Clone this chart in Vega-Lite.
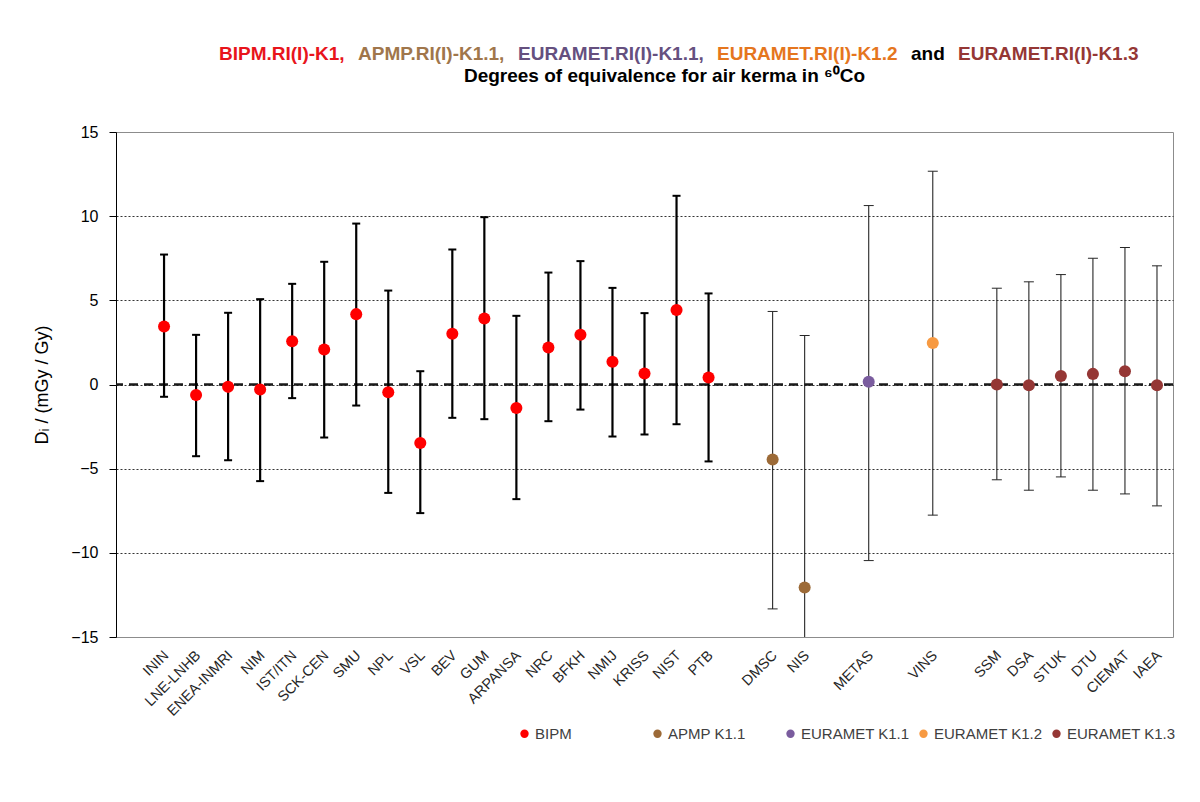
{
  "$schema": "https://vega.github.io/schema/vega-lite/v6.json",
  "background": "white",
  "padding": {"left": 33, "top": 44, "right": 10, "bottom": 5},
  "config": {
    "font": "Liberation Sans",
    "view": {"stroke": "#8c8c8c", "strokeWidth": 1},
    "title": {"fontSize": 19, "fontWeight": "bold", "anchor": "start", "offset": 0, "color": "#000000"}
  },
  "datasets": {
    "doe": [
      {"lab": "ININ", "grp": "BIPM", "d": 3.45, "lo": -0.73, "hi": 7.72},
      {"lab": "LNE-LNHB", "grp": "BIPM", "d": -0.63, "lo": -4.26, "hi": 2.95},
      {"lab": "ENEA-INMRI", "grp": "BIPM", "d": -0.14, "lo": -4.50, "hi": 4.26},
      {"lab": "NIM", "grp": "BIPM", "d": -0.30, "lo": -5.74, "hi": 5.07},
      {"lab": "IST/ITN", "grp": "BIPM", "d": 2.57, "lo": -0.81, "hi": 5.98},
      {"lab": "SCK-CEN", "grp": "BIPM", "d": 2.08, "lo": -3.15, "hi": 7.29},
      {"lab": "SMU", "grp": "BIPM", "d": 4.18, "lo": -1.25, "hi": 9.56},
      {"lab": "NPL", "grp": "BIPM", "d": -0.46, "lo": -6.44, "hi": 5.58},
      {"lab": "VSL", "grp": "BIPM", "d": -3.47, "lo": -7.64, "hi": 0.79},
      {"lab": "BEV", "grp": "BIPM", "d": 3.01, "lo": -1.98, "hi": 8.02},
      {"lab": "GUM", "grp": "BIPM", "d": 3.92, "lo": -2.06, "hi": 9.94},
      {"lab": "ARPANSA", "grp": "BIPM", "d": -1.39, "lo": -6.81, "hi": 4.08},
      {"lab": "NRC", "grp": "BIPM", "d": 2.20, "lo": -2.18, "hi": 6.65},
      {"lab": "BFKH", "grp": "BIPM", "d": 2.95, "lo": -1.49, "hi": 7.33},
      {"lab": "NMIJ", "grp": "BIPM", "d": 1.35, "lo": -3.09, "hi": 5.74},
      {"lab": "KRISS", "grp": "BIPM", "d": 0.65, "lo": -2.97, "hi": 4.24},
      {"lab": "NIST", "grp": "BIPM", "d": 4.42, "lo": -2.36, "hi": 11.21},
      {"lab": "PTB", "grp": "BIPM", "d": 0.42, "lo": -4.57, "hi": 5.41},
      {"lab": "DMSC", "grp": "APMP K1.1", "d": -4.46, "lo": -13.33, "hi": 4.34},
      {"lab": "NIS", "grp": "APMP K1.1", "d": -12.06, "lo": -27.03, "hi": 2.91},
      {"lab": "METAS", "grp": "EURAMET K1.1", "d": 0.16, "lo": -10.46, "hi": 10.63},
      {"lab": "VINS", "grp": "EURAMET K1.2", "d": 2.46, "lo": -7.76, "hi": 12.67},
      {"lab": "SSM", "grp": "EURAMET K1.3", "d": 0.0, "lo": -5.66, "hi": 5.72},
      {"lab": "DSA", "grp": "EURAMET K1.3", "d": -0.04, "lo": -6.28, "hi": 6.10},
      {"lab": "STUK", "grp": "EURAMET K1.3", "d": 0.51, "lo": -5.49, "hi": 6.53},
      {"lab": "DTU", "grp": "EURAMET K1.3", "d": 0.63, "lo": -6.28, "hi": 7.50},
      {"lab": "CIEMAT", "grp": "EURAMET K1.3", "d": 0.79, "lo": -6.50, "hi": 8.14},
      {"lab": "IAEA", "grp": "EURAMET K1.3", "d": -0.04, "lo": -7.21, "hi": 7.05}
    ]
  },
  "spacing": -13,
  "vconcat": [
    {
      "spacing": 13,
      "hconcat": [
        {"width": 90, "height": 1, "data": {"values": [{}]}, "mark": {"type": "text", "text": ""}, "view": {"stroke": null}},
        {"width": 1, "height": 1, "title": {"text": "BIPM.RI(I)-K1,", "color": "#E8141B"}, "data": {"values": [{}]}, "mark": {"type": "text", "text": ""}, "view": {"stroke": null}},
        {"width": 1, "height": 1, "title": {"text": "APMP.RI(I)-K1.1,", "color": "#A0764B"}, "data": {"values": [{}]}, "mark": {"type": "text", "text": ""}, "view": {"stroke": null}},
        {"width": 1, "height": 1, "title": {"text": "EURAMET.RI(I)-K1.1,", "color": "#65507F"}, "data": {"values": [{}]}, "mark": {"type": "text", "text": ""}, "view": {"stroke": null}},
        {"width": 1, "height": 1, "title": {"text": "EURAMET.RI(I)-K1.2", "color": "#E5761E"}, "data": {"values": [{}]}, "mark": {"type": "text", "text": ""}, "view": {"stroke": null}},
        {"width": 1, "height": 1, "title": {"text": "and", "color": "#000000"}, "data": {"values": [{}]}, "mark": {"type": "text", "text": ""}, "view": {"stroke": null}},
        {"width": 1, "height": 1, "title": {"text": "EURAMET.RI(I)-K1.3", "color": "#953735"}, "data": {"values": [{}]}, "mark": {"type": "text", "text": ""}, "view": {"stroke": null}}
      ]
    },
    {
      "width": 1057,
      "height": 505,
      "title": {"text": "Degrees of equivalence for air kerma in ⁶⁰Co", "anchor": "middle", "dx": 20, "offset": 38},
      "data": {"name": "doe"},
      "layer": [
        {
          "data": {"values": [{}]},
          "mark": {"type": "rule", "strokeDash": [9, 6], "strokeWidth": 2.5, "color": "#1a1a1a"},
          "encoding": {
            "y": {
              "datum": 0, "type": "quantitative",
              "scale": {"domain": [-15, 15], "nice": false, "zero": false},
              "axis": {
                "values": [-15, -10, -5, 0, 5, 10, 15],
                "title": "Dᵢ / (mGy / Gy)",
                "grid": true, "gridDash": [2, 2], "gridColor": "#000000", "gridWidth": 0.8,
                "gridOpacity": {"condition": {"test": "abs(datum.value) == 15", "value": 0}, "value": 1},
                "domainColor": "#000000", "tickColor": "#000000", "tickSize": 7,
                "labelFontSize": 16, "labelColor": "#000000", "labelPadding": 11,
                "titleFontSize": 18, "titleFontWeight": "normal", "titlePadding": 19, "titleColor": "#000000"
              }
            }
          }
        },
        {
          "transform": [{"filter": "datum.grp == 'BIPM'"}],
          "mark": {"type": "rule", "strokeWidth": 2.2, "color": "#000000", "clip": true},
          "encoding": {
            "x": {"field": "lab", "type": "ordinal"},
            "y": {"field": "lo", "type": "quantitative"},
            "y2": {"field": "hi"}
          }
        },
        {
          "transform": [{"filter": "datum.grp != 'BIPM'"}],
          "mark": {"type": "rule", "strokeWidth": 1.1, "color": "#262626", "clip": true},
          "encoding": {
            "x": {"field": "lab", "type": "ordinal"},
            "y": {"field": "lo", "type": "quantitative"},
            "y2": {"field": "hi"}
          }
        },
        {
          "transform": [{"filter": "datum.grp == 'BIPM'"}, {"fold": ["lo", "hi"], "as": ["k", "v"]}],
          "mark": {"type": "tick", "size": 8, "thickness": 2, "color": "#000000", "opacity": 1, "clip": true},
          "encoding": {
            "x": {"field": "lab", "type": "ordinal"},
            "y": {"field": "v", "type": "quantitative"}
          }
        },
        {
          "transform": [{"filter": "datum.grp != 'BIPM'"}, {"fold": ["lo", "hi"], "as": ["k", "v"]}],
          "mark": {"type": "tick", "size": 10, "thickness": 1, "color": "#262626", "opacity": 1, "clip": true},
          "encoding": {
            "x": {"field": "lab", "type": "ordinal"},
            "y": {"field": "v", "type": "quantitative"}
          }
        },
        {
          "mark": {"type": "point", "filled": true, "shape": "circle", "size": 145, "opacity": 1},
          "encoding": {
            "x": {
              "field": "lab", "type": "ordinal",
              "scale": {
                "type": "point", "padding": 0.5,
                "domain": ["~0", "ININ", "LNE-LNHB", "ENEA-INMRI", "NIM", "IST/ITN", "SCK-CEN", "SMU", "NPL", "VSL", "BEV", "GUM", "ARPANSA", "NRC", "BFKH", "NMIJ", "KRISS", "NIST", "PTB", "~1", "DMSC", "NIS", "~2", "METAS", "~3", "VINS", "~4", "SSM", "DSA", "STUK", "DTU", "CIEMAT", "IAEA"]
              },
              "axis": {
                "title": null, "domain": false, "ticks": false,
                "labelAngle": -45, "labelAlign": "right", "labelBaseline": "middle",
                "labelFontSize": 14.5, "labelColor": "#262626", "labelPadding": 16, "labelOffset": 2,
                "labelExpr": "indexof(datum.value, '~') == 0 ? '' : datum.value"
              }
            },
            "y": {"field": "d", "type": "quantitative"},
            "color": {
              "field": "grp", "type": "nominal",
              "scale": {
                "domain": ["BIPM", "APMP K1.1", "EURAMET K1.1", "EURAMET K1.2", "EURAMET K1.3"],
                "range": ["#FF0000", "#9C6A37", "#7A5C9E", "#F79A42", "#953735"]
              },
              "legend": {
                "orient": "none", "legendX": 401, "legendY": 653, "direction": "horizontal", "columns": 5,
                "gridAlign": "all", "title": null, "labelFontSize": 15, "labelColor": "#404040", "symbolSize": 70,
                "symbolType": "circle", "columnPadding": 6, "labelOffset": 3
              }
            }
          }
        }
      ]
    }
  ]
}
